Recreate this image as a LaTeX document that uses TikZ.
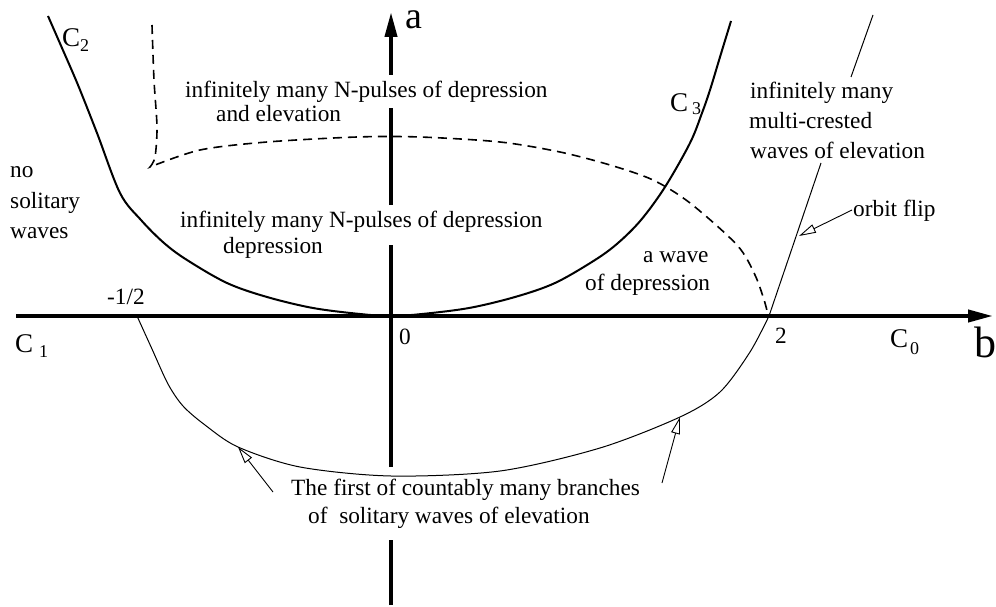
\documentclass[tikz,border=0pt]{standalone}
\usepackage{fontspec}
\setmainfont{Liberation Serif}
\usetikzlibrary{arrows.meta}
\newcommand\clsub[2]{\raisebox{-#1pt}{\fontsize{18}{18}\selectfont #2}}
\begin{document}
\begin{tikzpicture}[x=1pt,y=-1pt,
  txt/.style={font=\fontsize{23.3}{30}\selectfont, inner sep=0pt, anchor=base west},
  clab/.style={font=\fontsize{27}{30}\selectfont, inner sep=0pt, anchor=base west},
  axislab/.style={inner sep=0pt, anchor=base west},
  axisline/.style={line width=4pt},
  axisarrow/.style={line width=4pt, -{Triangle[length=25pt,width=12pt]}},
  bigcurve/.style={line width=2pt, line join=round},
  dashcurve/.style={line width=1.6pt, dash pattern=on 9pt off 6pt},
  thincurve/.style={line width=1pt},
  pointer/.style={line width=0.9pt, -{Triangle[open,length=17pt,width=9pt]}}]
\useasboundingbox (0,0) rectangle (996,607);

% axes
\coordinate (hl) at (16,316);
\coordinate (hr) at (993,316);
\draw[axisarrow] (hl) -- (hr);
\coordinate (v0) at (391,605);
\coordinate (v1) at (391,540);
\coordinate (v2) at (391,467);
\coordinate (v3) at (391,245);
\coordinate (v4) at (391,205);
\coordinate (v5) at (391,108);
\coordinate (v6) at (391,75);
\coordinate (v7) at (391,12);
\draw[axisline] (v0) -- (v1);
\draw[axisline] (v2) -- (v3);
\draw[axisline] (v4) -- (v5);
\draw[axisarrow] (v6) -- (v7);

% C2 - C3 curve
\draw[bigcurve] plot[smooth, tension=0.55] coordinates {
 (48,16) (62,48) (78,85) (97,133) (120,193) (141,220) (164,243) (187,260)
 (227,283) (267,297) (313,308) (360,314) (391,316)
 (422,314) (469,308) (515,297) (555,283) (595,260) (618,243) (641,220)
 (665,187) (690,143) (702,113) (710,90) (720,57) (731,21)};

% dashed curve
\draw[dashcurve] plot[smooth, tension=0.5] coordinates {
 (152,25) (154,80) (157,127) (155,157) (150,167)}
 -- plot[smooth, tension=0.5] coordinates {
 (150,167) (200,150) (267,142) (357,137) (420,137) (500,142) (560,152)
 (610,165) (653,180) (690,203) (737,245) (755,275) (765,303) (768,316)};

% thin curve (solitary waves of elevation) and orbit flip line
\coordinate (lt1) at (821,163);
\coordinate (lt2) at (851,77);
\coordinate (lt3) at (873,15);
\draw[thincurve] plot[smooth, tension=0.5] coordinates {
 (137,316) (152,349) (168,384) (183,406) (205,425) (238,447) (300,467) (391,476)
 (500,471) (600,448) (680,417) (720,392) (750,352) (769,316)} -- (lt1);
\draw[thincurve] (lt2) -- (lt3);

% axis labels
\node[axislab, font=\fontsize{38}{40}\selectfont] (la) at (405,29) {a};
\node[axislab, font=\fontsize{44}{44}\selectfont] (lb) at (974,357) {b};

% curve labels
\node[clab] (c2) at (62,47) {C\clsub{5}{2}};
\node[clab] (c3) at (670,112) {C\hspace{4pt}\clsub{3}{3}};
\node[clab] (c1) at (15,352) {C\hspace{6pt}\clsub{5}{1}};
\node[clab] (c0) at (890,347) {C\hspace{2pt}\clsub{7}{0}};

% numbers
\node[txt] (mhalf) at (107,304) {-1/2};
\node[txt] (zero) at (399,344) {0};
\node[txt] (two) at (775,343) {2};

% region texts
\node[txt] (t1a) at (185,98) {infinitely many N-pulses of depression};
\node[txt] (t1b) at (216,122) {and elevation};
\node[txt] (t2a) at (180,227) {infinitely many N-pulses of depression};
\node[txt] (t2b) at (223,253) {depression};
\node[txt] (no1) at (10,177) {no};
\node[txt] (no2) at (10,208) {solitary};
\node[txt] (no3) at (10,238) {waves};
\node[txt] (w1) at (643,262) {a wave};
\node[txt] (w2) at (585,290) {of depression};
\node[txt] (m1) at (750,99) {infinitely many};
\node[txt] (m2) at (749,129) {multi-crested};
\node[txt] (m3) at (750,159) {waves of elevation};
\node[txt] (of) at (853,216) {orbit flip};
\node[txt] (b1) at (291,495) {The first of countably many branches};
\node[txt] (b2) at (308,523) {of\ \ solitary waves of elevation};

% pointers
\coordinate (ofTail) at (852,210);
\coordinate (ofTip) at (799,236);
\draw[pointer] (ofTail) -- (ofTip);
\coordinate (blTail) at (273,492);
\coordinate (blTip) at (238,447);
\draw[pointer] (blTail) -- (blTip);
\coordinate (brTail) at (662,483);
\coordinate (brTip) at (680,417);
\draw[pointer] (brTail) -- (brTip);
\end{tikzpicture}
\end{document}
